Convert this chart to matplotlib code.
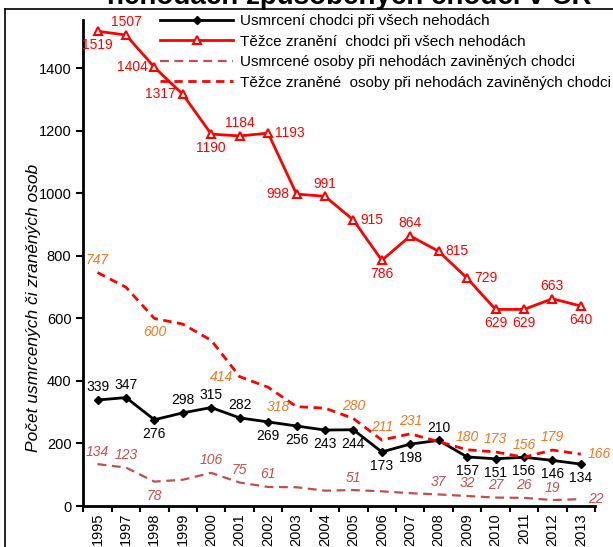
#!/usr/bin/env python3

import matplotlib.pyplot as plt
import numpy as np

plt.rcParams['font.family'] = ['Liberation Sans', 'DejaVu Sans']

years = ['1995', '1997', '1998', '1999', '2000', '2001', '2002', '2003', '2004',
         '2005', '2006', '2007', '2008', '2009', '2010', '2011', '2012', '2013']

# usmrceni chodci pri vsech nehodach
killed_all = [339, 347, 276, 298, 315, 282, 269, 256, 243, 244, 173, 198, 210, 157, 151, 156, 146, 134]
# tezce zraneni chodci pri vsech nehodach
injured_all = [1519, 1507, 1404, 1317, 1190, 1184, 1193, 998, 991, 915, 786, 864, 815, 729, 629, 629, 663, 640]
# usmrcene osoby pri nehodach zavinenych chodci
killed_ped = [134, 123, 78, 84, 106, 75, 61, 60, 49, 51, 47, 41, 37, 32, 27, 26, 19, 22]
# tezce zranene osoby pri nehodach zavinenych chodci
injured_ped = [747, 700, 600, 582, 530, 414, 380, 318, 313, 280, 211, 231, 206, 180, 173, 156, 179, 166]

# where each value label goes (a=above, b=below, l=left, r=right, None=no label)
pos_killed_all = ['a', 'a', 'b', 'a', 'a', 'a', 'b', 'b', 'b', 'b', 'b', 'b', 'a', 'b', 'b', 'b', 'b', 'b']
pos_injured_all = ['b', 'a', 'l', 'l', 'b', 'a', 'r', 'l', 'a', 'r', 'b', 'a', 'r', 'r', 'b', 'b', 'a', 'b']
pos_killed_ped = ['a', 'a', 'b', None, 'a', 'a', 'a', None, None, 'a', None, None, 'a', 'a', 'a', 'a', 'a', 'r']
pos_injured_ped = ['a', None, 'b', None, None, 'l', None, 'l', None, 'a', 'a', 'a', None, 'a', 'a', 'a', 'a', 'r']

offsets = {'a': ((0, 4), 'center', 'bottom'),
           'b': ((0, -5), 'center', 'top'),
           'l': ((-5, 0), 'right', 'center'),
           'r': ((5, 0), 'left', 'center')}

fig = plt.figure(figsize=(6.13, 5.47), dpi=100)
ax = fig.add_axes([83.3 / 613, 1 - 506 / 547, (595 - 83.3) / 613, (506 - 20) / 547])

x = np.arange(len(years))
ax.plot(x, killed_all, color='black', lw=2, marker='D', ms=4, label='Usmrcení chodci při všech nehodách')
ax.plot(x, injured_all, color='#FF0000', lw=2, marker='^', ms=6, mfc='white', mec='#FF0000', mew=1.5,
        label='Těžce zranění  chodci při všech nehodách')
ax.plot(x, killed_ped, color='#C0504D', lw=1.6, ls=(0, (4, 2.5)),
        label='Usmrcené osoby při nehodách zaviněných chodci')
ax.plot(x, injured_ped, color='#FF0000', lw=2, ls=(0, (3, 2)),
        label='Těžce zraněné  osoby při nehodách zaviněných chodci')


def put_labels(vals, where, color, style='normal'):
    for i, (v, p) in enumerate(zip(vals, where)):
        if p is None:
            continue
        off, ha, va = offsets[p]
        ax.annotate(str(v), xy=(i, v), xytext=off, textcoords='offset points',
                    ha=ha, va=va, color=color, fontsize=10, fontstyle=style)


put_labels(killed_all, pos_killed_all, 'black')
put_labels(injured_all, pos_injured_all, '#FF0000')
put_labels(killed_ped, pos_killed_ped, '#C0504D', 'italic')
put_labels(injured_ped, pos_injured_ped, '#EE7722', 'italic')

ax.set_xlim(-0.5, len(years) - 0.5)
ax.set_ylim(0, 1555)
ax.set_yticks(np.arange(0, 1401, 200))
ax.set_xticks(x)
ax.set_xticklabels(years, rotation=90, fontsize=10.5)
ax.set_xticks(np.arange(-0.5, len(years), 1), minor=True)
ax.tick_params(axis='x', which='major', length=0, pad=5)
ax.tick_params(axis='x', which='minor', length=4, width=1.5, direction='out')
ax.tick_params(axis='y', length=5, width=1.5, direction='out', labelsize=10.5)

for s in ['top', 'right']:
    ax.spines[s].set_visible(False)
for s in ['left', 'bottom']:
    ax.spines[s].set_linewidth(2)

ax.set_ylabel('Počet usmrcených či zraněných osob', fontstyle='italic', fontsize=12.5)
ax.yaxis.set_label_coords(-0.082, 0.407)

ax.legend(loc='upper left', bbox_to_anchor=(160 / 613, 1 - 14 / 547), bbox_transform=fig.transFigure,
          frameon=False, fontsize=11, handlelength=4.8, handletextpad=0.45, labelspacing=0.43,
          borderpad=0, borderaxespad=0)

# title line, cut off at the top like the source picture
fig.text(349 / 613, 1 - 4 / 547, 'nehodách způsobených chodci v ČR', ha='center', va='baseline',
         fontsize=20, fontweight='bold')

# outer frame of the chart area
fig.add_artist(plt.Line2D([5 / 613, 5 / 613], [0, 1 - 9 / 547], color='black', lw=1.2, transform=fig.transFigure))
fig.add_artist(plt.Line2D([5 / 613, 1], [1 - 9 / 547, 1 - 9 / 547], color='black', lw=1.2, transform=fig.transFigure))

fig.savefig('out.png', dpi=100)
plt.close()
